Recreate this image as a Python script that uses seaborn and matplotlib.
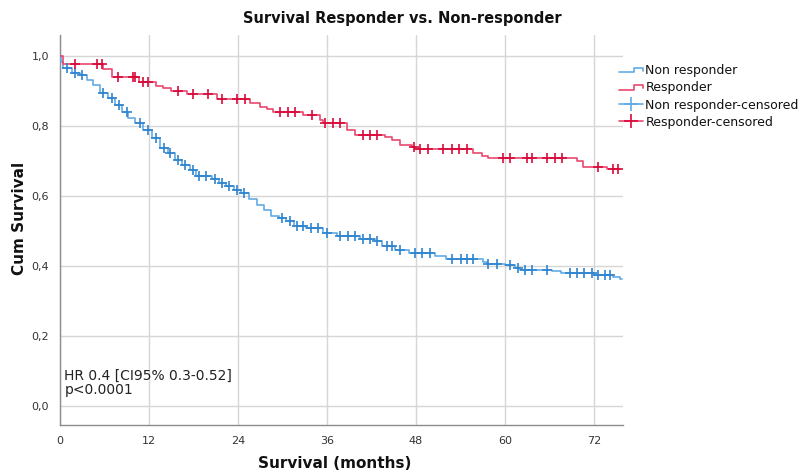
import numpy as np
import pandas as pd
import matplotlib
matplotlib.use("Agg")
import matplotlib.pyplot as plt
import seaborn as sns
from matplotlib.legend_handler import HandlerBase
from matplotlib.lines import Line2D

# ---------------- data ----------------
resp_times = [0, 0.45, 5.8, 7.0, 10.6, 12.9, 13.9, 15.0, 17.1, 21.1, 25.6, 27.0, 27.9, 28.7,
              32.8, 35.0, 35.5, 38.7, 39.8, 43.8, 44.8, 45.8, 47.5, 47.9, 55.7, 56.9, 57.7,
              69.7, 70.5, 73.7]
resp_surv = [1.0, 0.977, 0.962, 0.939, 0.927, 0.914, 0.908, 0.900, 0.890, 0.876, 0.866, 0.855,
             0.849, 0.841, 0.831, 0.817, 0.808, 0.789, 0.774, 0.768, 0.760, 0.746, 0.741, 0.734,
             0.724, 0.714, 0.708, 0.699, 0.684, 0.676]
resp_end = 75.5
resp_censor = [2.0, 5.0, 5.7, 7.8, 9.8, 10.1, 11.2, 11.9, 15.9, 17.9, 20.0, 21.8, 23.9, 24.9,
               29.7, 30.8, 31.7, 34.0, 35.7, 36.8, 37.7, 40.9, 41.8, 42.7, 47.7, 48.5, 49.6,
               51.7, 52.9, 53.8, 54.9, 59.7, 60.7, 62.9, 63.6, 65.6, 66.7, 67.7, 72.5, 74.6, 75.2]

nonr_times = [0, 0.1, 0.45, 1.6, 2.7, 3.6, 4.5, 5.4, 6.5, 7.4, 8.3, 9.2, 10.1, 11.2, 12.4, 13.5,
              14.5, 15.5, 16.5, 17.5, 18.4, 20.5, 21.4, 22.4, 23.4, 24.4, 25.5, 26.5, 27.5, 28.5,
              29.5, 30.5, 31.5, 33.2, 35.5, 37.3, 40.4, 42.4, 43.4, 45.2, 47.0, 50.6, 52.0, 57.0,
              57.5, 60.0, 61.3, 62.0, 66.3, 67.6, 72.0, 74.5, 75.5]
nonr_surv = [1.0, 0.984, 0.965, 0.950, 0.946, 0.931, 0.917, 0.893, 0.879, 0.860, 0.841, 0.822,
             0.808, 0.789, 0.765, 0.737, 0.723, 0.703, 0.689, 0.674, 0.657, 0.648, 0.638, 0.629,
             0.617, 0.608, 0.591, 0.575, 0.560, 0.543, 0.536, 0.527, 0.514, 0.508, 0.495, 0.484,
             0.477, 0.470, 0.457, 0.444, 0.438, 0.427, 0.420, 0.412, 0.406, 0.403, 0.393, 0.389,
             0.384, 0.379, 0.374, 0.368, 0.363]
nonr_end = 75.8
nonr_censor = [0.9, 2.0, 2.9, 5.8, 7.0, 8.0, 9.0, 10.8, 11.9, 12.9, 14.0, 14.8, 15.9, 16.9, 17.9,
               18.8, 19.7, 20.9, 21.8, 22.8, 23.8, 24.8, 29.9, 31.0, 31.9, 32.8, 33.8, 34.8, 36.0,
               37.8, 38.8, 39.8, 40.9, 41.8, 42.7, 44.1, 44.8, 45.8, 47.9, 48.8, 49.9, 52.9, 54.0,
               54.9, 55.7, 57.7, 58.9, 60.7, 61.8, 62.7, 63.6, 65.6, 68.8, 69.7, 70.7, 71.7, 72.5,
               73.5, 74.2]

x_ticks = [0, 12, 24, 36, 48, 60, 72]
y_ticks = [0.0, 0.2, 0.4, 0.6, 0.8, 1.0]
y_tick_labels = ["0,0", "0,2", "0,4", "0,6", "0,8", "1,0"]
legend_labels = ["Non responder", "Responder", "Non responder-censored", "Responder-censored"]
title = "Survival Responder vs. Non-responder"
x_label = "Survival (months)"
y_label = "Cum Survival"
annotation = "HR 0.4 [CI95% 0.3-0.52]\np<0.0001"

# ---------------- styling ----------------
sns.set_theme(style="white")
plt.rcParams["font.family"] = ["DejaVu Sans"]

blue_line = "#62aae4"
blue_cens = "#2e84cf"
red_line = "#e9486e"
red_cens = "#d90a3a"


def curve_df(times, surv, end):
    t = list(times) + [end]
    s = list(surv) + [surv[-1]]
    return pd.DataFrame({"time": t, "surv": s})


def censor_df(times, surv, cens):
    t = np.asarray(times)
    s = np.asarray(surv)
    idx = np.searchsorted(t, np.asarray(cens), side="right") - 1
    return pd.DataFrame({"time": cens, "surv": s[idx]})


fig = plt.figure(figsize=(8.05, 4.72), dpi=100)
ax = fig.add_axes([60 / 805, 47 / 472, 563 / 805, 390 / 472])

nonr_df = curve_df(nonr_times, nonr_surv, nonr_end)
resp_df = curve_df(resp_times, resp_surv, resp_end)

sns.lineplot(data=nonr_df, x="time", y="surv", ax=ax, color=blue_line, lw=1.2,
             drawstyle="steps-post", estimator=None, sort=False, zorder=3)
sns.lineplot(data=resp_df, x="time", y="surv", ax=ax, color=red_line, lw=1.2,
             drawstyle="steps-post", estimator=None, sort=False, zorder=3)

sns.scatterplot(data=censor_df(nonr_times, nonr_surv, nonr_censor), x="time", y="surv", ax=ax,
                marker="+", s=42, color=blue_cens, linewidth=1.2, zorder=4)
sns.scatterplot(data=censor_df(resp_times, resp_surv, resp_censor), x="time", y="surv", ax=ax,
                marker="+", s=42, color=red_cens, linewidth=1.2, zorder=4)

ax.set_xlim(0, 75.9)
ax.set_ylim(-0.055, 1.06)
ax.set_xticks(x_ticks)
ax.set_xticklabels([str(v) for v in x_ticks])
ax.set_yticks(y_ticks)
ax.set_yticklabels(y_tick_labels)
ax.tick_params(axis="both", length=0, labelsize=8, colors="#333333", pad=8)
ax.grid(True, color="#d6d6d6", lw=1.0, zorder=0)
ax.set_axisbelow(True)
for side in ["top", "right"]:
    ax.spines[side].set_visible(False)
for side in ["left", "bottom"]:
    ax.spines[side].set_color("#8c8c8c")
    ax.spines[side].set_linewidth(1.0)

ax.set_xlabel("")
ax.set_ylabel("")
fig.text(335 / 805, 1 - 463 / 472, x_label, ha="center", va="center", fontsize=11,
         fontweight="bold", color="#111111")
fig.text(19 / 805, 1 - 218 / 472, y_label, ha="center", va="center", rotation=90,
         fontsize=11, fontweight="bold", color="#111111")
fig.text(0.5, 1 - 18 / 472, title, ha="center", va="center", fontsize=10.5,
         fontweight="bold", color="#111111")

ax.text(0.6, 0.025, annotation, fontsize=10, color="#222222", va="bottom", ha="left",
        linespacing=1.0)


class StepHandler(HandlerBase):
    def create_artists(self, legend, orig_handle, xdescent, ydescent, width, height,
                       fontsize, trans):
        lo = height * 0.2 - ydescent
        hi = height * 0.7 - ydescent
        xs = [-xdescent, -xdescent + width * 0.62, -xdescent + width * 0.62,
              -xdescent + width, -xdescent + width]
        ys = [lo, lo, hi, hi, lo + (hi - lo) * 0.35]
        ln = Line2D(xs, ys, color=orig_handle.get_color(), lw=1.2, transform=trans)
        return [ln]


class StepProxy(Line2D):
    pass


h1 = StepProxy([], [], color=blue_line)
h2 = StepProxy([], [], color=red_line)
h3 = Line2D([], [], color=blue_line, marker="+", markersize=10, markeredgewidth=1.2,
            markeredgecolor=blue_line, lw=1.2)
h4 = Line2D([], [], color=red_line, marker="+", markersize=10, markeredgewidth=1.2,
            markeredgecolor=red_cens, lw=1.2)
leg = ax.legend([h1, h2, h3, h4], legend_labels, loc="upper left",
                bbox_to_anchor=(619 / 805, 1 - 64 / 472), bbox_transform=fig.transFigure,
                frameon=False, fontsize=9.0, handlelength=1.9, handletextpad=0.2,
                labelspacing=0.34, borderaxespad=0, borderpad=0,
                handler_map={StepProxy: StepHandler()})
for t in leg.get_texts():
    t.set_color("#111111")

fig.savefig("out.png", dpi=100)
